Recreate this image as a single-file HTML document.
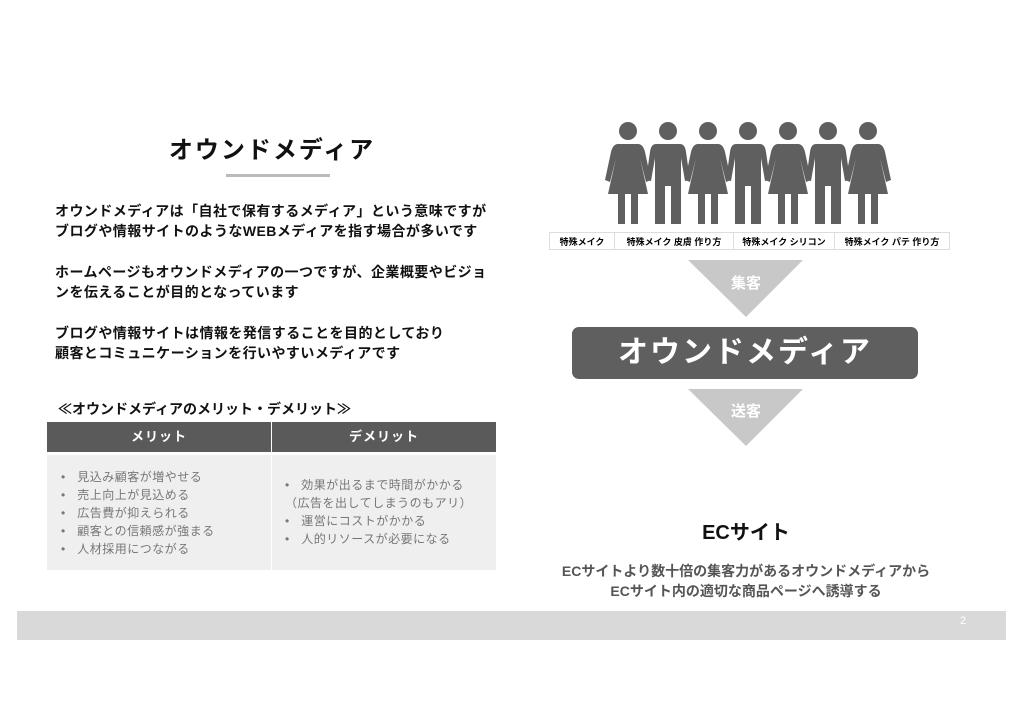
<!DOCTYPE html><html><head><meta charset="utf-8"><style>
body{margin:0;width:1024px;height:725px;background:#fff;position:relative;font-family:"Liberation Sans","Noto Sans CJK JP",sans-serif;overflow:hidden}
.a{position:absolute;white-space:nowrap}
.p{font-size:14px;font-weight:bold;color:#111;left:55px;letter-spacing:0.45px}
.lab{position:absolute;top:232px;height:18px;border:1px solid #ddd;font-size:9px;font-weight:bold;text-align:center;line-height:18px;box-sizing:border-box}
ul{margin:0;padding:0;list-style:none}
li{font-size:12px;color:#777;line-height:18px;letter-spacing:0.5px}
</style></head><body>
<div class="a" style="left:0;width:544px;text-align:center;top:130px;font-size:24px;font-weight:bold;letter-spacing:2px;color:#111">オウンドメディア</div>
<div class="a" style="left:226px;top:174px;width:104px;height:3px;background:#bbb"></div>
<div class="a p" style="top:201px">オウンドメディアは「自社で保有するメディア」という意味ですが</div>
<div class="a p" style="top:221px">ブログや情報サイトのようなWEBメディアを指す場合が多いです</div>
<div class="a p" style="top:262px">ホームページもオウンドメディアの一つですが、企業概要やビジョ</div>
<div class="a p" style="top:282px">ンを伝えることが目的となっています</div>
<div class="a p" style="top:323px">ブログや情報サイトは情報を発信することを目的としており</div>
<div class="a p" style="top:343px">顧客とコミュニケーションを行いやすいメディアです</div>
<div class="a p" style="top:399px;left:58px;letter-spacing:0">≪オウンドメディアのメリット・デメリット≫</div>
<div class="a" style="left:47px;top:422px;width:224px;height:30px;background:#5a5a5a;color:#fff;font-weight:bold;font-size:13px;text-align:center;line-height:30px;letter-spacing:1px">メリット</div>
<div class="a" style="left:272px;top:422px;width:224px;height:30px;background:#5a5a5a;color:#fff;font-weight:bold;font-size:13px;text-align:center;line-height:30px;letter-spacing:1px">デメリット</div>
<div class="a" style="left:47px;top:455px;width:224px;height:115px;background:#efefef"></div>
<div class="a" style="left:272px;top:455px;width:224px;height:115px;background:#efefef"></div>
<ul class="a" style="left:61px;top:468px"><li>•&nbsp;&nbsp; 見込み顧客が増やせる</li><li>•&nbsp;&nbsp; 売上向上が見込める</li><li>•&nbsp;&nbsp; 広告費が抑えられる</li><li>•&nbsp;&nbsp; 顧客との信頼感が強まる</li><li>•&nbsp;&nbsp; 人材採用につながる</li></ul>
<ul class="a" style="left:285px;top:476px"><li>•&nbsp;&nbsp; 効果が出るまで時間がかかる</li><li>（広告を出してしまうのもアリ）</li><li>•&nbsp;&nbsp; 運営にコストがかかる</li><li>•&nbsp;&nbsp; 人的リソースが必要になる</li></ul>

<svg class="a" style="left:0;top:0" width="1024" height="260">
<defs>
<g id="f" fill="#5f5f5f"><circle cx="0" cy="9" r="9"/><path d="M-10 22 H10 Q15 22 17 30 L23 58 L18 60 L12 36 L20 72 H10 V102 H3 V72 H-3 V102 H-10 V72 H-20 L-12 36 L-18 60 L-23 58 L-17 30 Q-15 22 -10 22Z"/></g>
<g id="m" fill="#5f5f5f"><circle cx="0" cy="9" r="9"/><path d="M-12 22 H12 Q17 22 18 30 L22 58 L17 59 L13 36 V102 H3 V64 H-3 V102 H-13 V36 L-17 59 L-22 58 L-18 30 Q-17 22 -12 22Z"/></g>
</defs>
<use href="#f" x="628" y="122"/><use href="#m" x="668" y="122"/><use href="#f" x="708" y="122"/><use href="#m" x="748" y="122"/><use href="#f" x="788" y="122"/><use href="#m" x="828" y="122"/><use href="#f" x="868" y="122"/>
</svg>
<div class="lab" style="left:549px;width:66px">特殊メイク</div>
<div class="lab" style="left:614px;width:120px">特殊メイク 皮膚 作り方</div>
<div class="lab" style="left:733px;width:102px">特殊メイク シリコン</div>
<div class="lab" style="left:834px;width:116px">特殊メイク パテ 作り方</div>
<svg class="a" style="left:0;top:255px" width="1024" height="200">
<polygon points="688,5 803,5 746,62" fill="#c8c8c8"/>
<polygon points="688,134 803,134 746,191" fill="#c8c8c8"/>
</svg>
<div class="a" style="left:706px;width:80px;text-align:center;top:272px;color:#fff;font-weight:bold;font-size:15px">集客</div>
<div class="a" style="left:572px;top:327px;width:346px;height:52px;background:#5f5f5f;border-radius:7px;color:#fff;font-weight:bold;font-size:30px;text-align:center;line-height:52px;letter-spacing:2px">オウンドメディア</div>
<div class="a" style="left:706px;width:80px;text-align:center;top:400px;color:#fff;font-weight:bold;font-size:15px">送客</div>
<div class="a" style="left:646px;width:200px;text-align:center;top:516px;font-size:20px;font-weight:bold;color:#111">ECサイト</div>
<div class="a" style="left:536px;width:420px;text-align:center;top:561px;font-size:14px;font-weight:bold;color:#555">ECサイトより数十倍の集客力があるオウンドメディアから</div>
<div class="a" style="left:536px;width:420px;text-align:center;top:581px;font-size:14px;font-weight:bold;color:#555">ECサイト内の適切な商品ページへ誘導する</div>
<div class="a" style="left:17px;top:611px;width:989px;height:29px;background:#d9d9d9"></div>
<div class="a" style="left:960px;top:615px;font-size:11px;color:#fff">2</div>
</body></html>
